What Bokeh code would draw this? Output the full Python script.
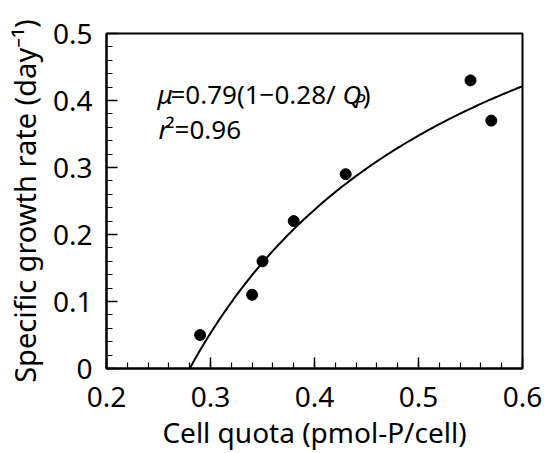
import numpy as np
from bokeh.plotting import figure
from bokeh.models import FixedTicker, Label, Range1d
from bokeh.embed import file_html
from bokeh.resources import INLINE

# ---- data ----
cell_quota = [0.29, 0.34, 0.35, 0.38, 0.43, 0.55, 0.57]
growth_rate = [0.05, 0.11, 0.16, 0.22, 0.29, 0.43, 0.37]
# fitted Droop model shown on the chart: mu = 0.79 (1 - 0.28 / Qp)
mu_max = 0.79
q_min = 0.28
x_ticks = [0.2, 0.3, 0.4, 0.5, 0.6]
x_tick_labels = ["0.2", "0.3", "0.4", "0.5", "0.6"]
y_ticks = [0.0, 0.1, 0.2, 0.3, 0.4, 0.5]
y_tick_labels = ["0", "0.1", "0.2", "0.3", "0.4", "0.5"]

FONT = "Noto Sans"

p = figure(width=544, height=453, output_backend="svg", toolbar_location=None,
           x_range=Range1d(0.2, 0.6), y_range=Range1d(0.0, 0.5),
           min_border_left=106, min_border_right=22, min_border_top=33,
           min_border_bottom=85)
p.background_fill_color = "white"
p.border_fill_color = "white"
p.outline_line_color = "black"
p.outline_line_width = 2
p.xgrid.visible = False
p.ygrid.visible = False

x_minor = [round(0.2 + 0.02 * i, 2) for i in range(21)]
y_minor = [round(0.02 * i, 2) for i in range(26)]
p.xaxis.ticker = FixedTicker(ticks=x_ticks, minor_ticks=x_minor)
p.yaxis.ticker = FixedTicker(ticks=y_ticks, minor_ticks=y_minor)
p.xaxis.major_label_overrides = {t: l for t, l in zip(x_ticks, x_tick_labels)}
p.yaxis.major_label_overrides = {t: l for t, l in zip(y_ticks, y_tick_labels)}

for ax in (p.xaxis, p.yaxis):
    ax.axis_line_width = 2
    ax.axis_line_color = "black"
    ax.major_tick_in = 11
    ax.major_tick_out = 0
    ax.minor_tick_in = 6
    ax.minor_tick_out = 0
    ax.major_tick_line_width = 1.5
    ax.minor_tick_line_width = 1.2
    ax.major_label_text_font = FONT
    ax.major_label_text_font_size = "28px"
    ax.major_label_text_color = "black"
    ax.axis_label_text_font = FONT
    ax.axis_label_text_font_style = "normal"
    ax.axis_label_text_color = "black"

p.xaxis.axis_label_text_font_size = "28px"
p.yaxis.axis_label_text_font_size = "29px"
p.xaxis.axis_label = "Cell quota (pmol-P/cell)"
p.yaxis.axis_label = "Specific growth rate (day\u207b\u00b9)"
p.xaxis.major_label_standoff = 18
p.xaxis.axis_label_standoff = 3
p.yaxis.major_label_standoff = 14
p.yaxis.axis_label_standoff = 6

# fitted curve
q_fit = np.linspace(q_min, 0.6, 200)
mu_fit = mu_max * (1 - q_min / q_fit)
p.line(q_fit, mu_fit, line_color="black", line_width=2)

# observations
p.scatter(cell_quota, growth_rate, size=11, color="black")

# equation text
eq_font = "26px"
def lab(x, y, text, style="normal", size=eq_font):
    p.add_layout(Label(x=x, y=y, text=text, text_font=FONT, text_font_size=size,
                       text_font_style=style, text_color="black",
                       text_baseline="alphabetic", text_align="left"))

lab(0.249, 0.409, "\u03bc", "italic")
lab(0.2615, 0.409, "=0.79(1\u22120.28/")
lab(0.427, 0.409, "Q", "italic")
lab(0.4385, 0.399, "P", "italic", "19px")
lab(0.4465, 0.409, ")")
lab(0.250, 0.358, "r", "italic")
lab(0.2567, 0.358, "\u00b2=0.96")

open("out.html", "w").write(file_html(p, INLINE))
